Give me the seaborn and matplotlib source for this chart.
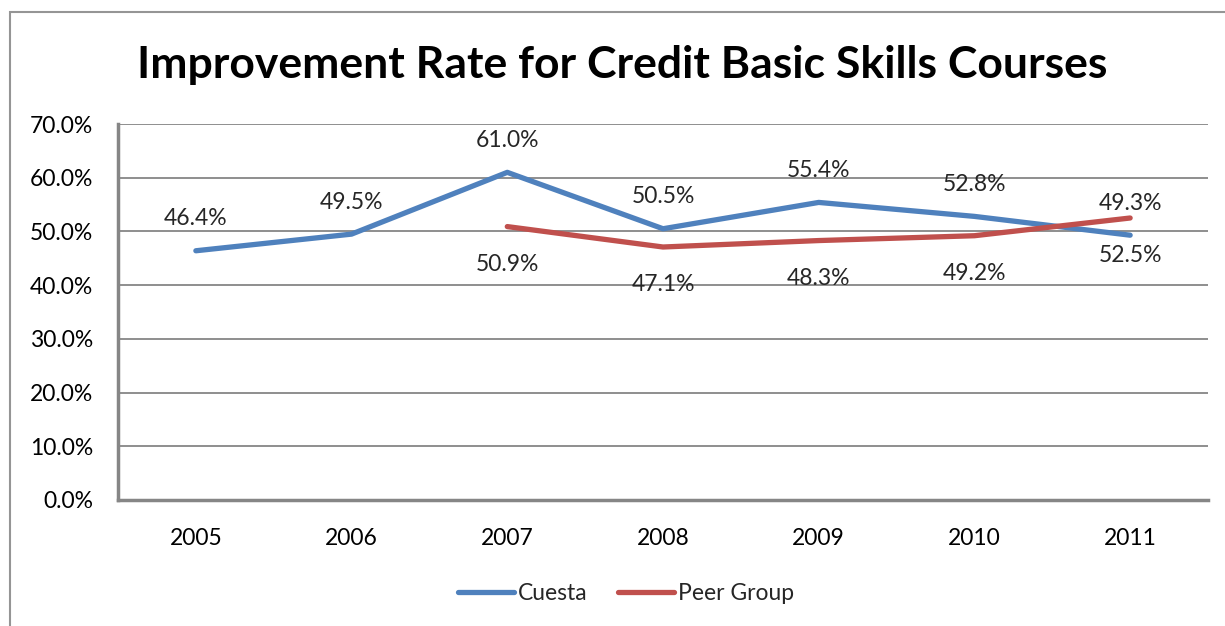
import matplotlib
matplotlib.use("Agg")
import matplotlib.pyplot as plt
import seaborn as sns
import pandas as pd
import numpy as np
from matplotlib.patches import Rectangle

years = ["2005", "2006", "2007", "2008", "2009", "2010", "2011"]
cuesta = [46.4, 49.5, 61.0, 50.5, 55.4, 52.8, 49.3]
peer = [None, None, 50.9, 47.1, 48.3, 49.2, 52.5]
series_names = ["Cuesta", "Peer Group"]
colors = ["#4F81BD", "#C0504D"]
title = "Improvement Rate for Credit Basic Skills Courses"
yticks = [0, 10, 20, 30, 40, 50, 60, 70]

sns.set_style("white")
plt.rcParams["font.family"] = ["Lato", "DejaVu Sans"]

rows = []
for i, y in enumerate(years):
    rows.append({"year": i, "value": cuesta[i], "series": series_names[0]})
    if peer[i] is not None:
        rows.append({"year": i, "value": peer[i], "series": series_names[1]})
df = pd.DataFrame(rows)

fs = 16.5
fig = plt.figure(figsize=(12.25, 6.26), dpi=100)
ax = fig.add_axes([118/1225, 1-500/626, (1208-118)/1225, (500-124)/626])

sns.lineplot(data=df, x="year", y="value", hue="series", palette=colors,
             linewidth=3.8, ax=ax, legend=True, solid_capstyle="round")

ax.set_xlim(-0.5, 6.5)
ax.set_ylim(0, 70)
ax.set_yticks(yticks)
ax.set_yticklabels([f"{v:.1f}%" for v in yticks])
ax.set_xticks(range(len(years)))
ax.set_xticklabels(years)
ax.set_xlabel("")
ax.set_ylabel("")
ax.grid(axis="y", color="#868686", linewidth=1.3)
ax.set_axisbelow(True)
for s in ["top", "right"]:
    ax.spines[s].set_visible(False)
for s in ["left", "bottom"]:
    ax.spines[s].set_color("#868686")
    ax.spines[s].set_linewidth(2.5)
ax.tick_params(axis="both", length=0, labelsize=fs, colors="black")
ax.tick_params(axis="y", pad=18)
ax.tick_params(axis="x", pad=20)

for i, v in enumerate(cuesta):
    ax.annotate(f"{v:.1f}%", (i, v), xytext=(0, 23), textcoords="offset points",
                ha="center", va="center", fontsize=fs)
for i, v in enumerate(peer):
    if v is not None:
        ax.annotate(f"{v:.1f}%", (i, v), xytext=(0, -27), textcoords="offset points",
                    ha="center", va="center", fontsize=fs)

handles, labels = ax.get_legend_handles_labels()
ax.get_legend().remove()
leg = fig.legend(handles, labels, loc="center", bbox_to_anchor=(626/1225, 1-594/626), ncol=2,
                 frameon=False, fontsize=fs, handlelength=2.45, handletextpad=0.2,
                 columnspacing=1.3)
for h in leg.get_lines():
    h.set_linewidth(3.8)

fig.text(622/1225, 1-65/626, title, ha="center", va="center",
         fontsize=32, fontweight="bold", color="black")

fig.patches.append(Rectangle((10/1225, -0.1), 1.2, 1-12/626+0.1, transform=fig.transFigure,
                             fill=False, edgecolor="#959595", linewidth=1.5))

fig.savefig("out.png", dpi=100)
